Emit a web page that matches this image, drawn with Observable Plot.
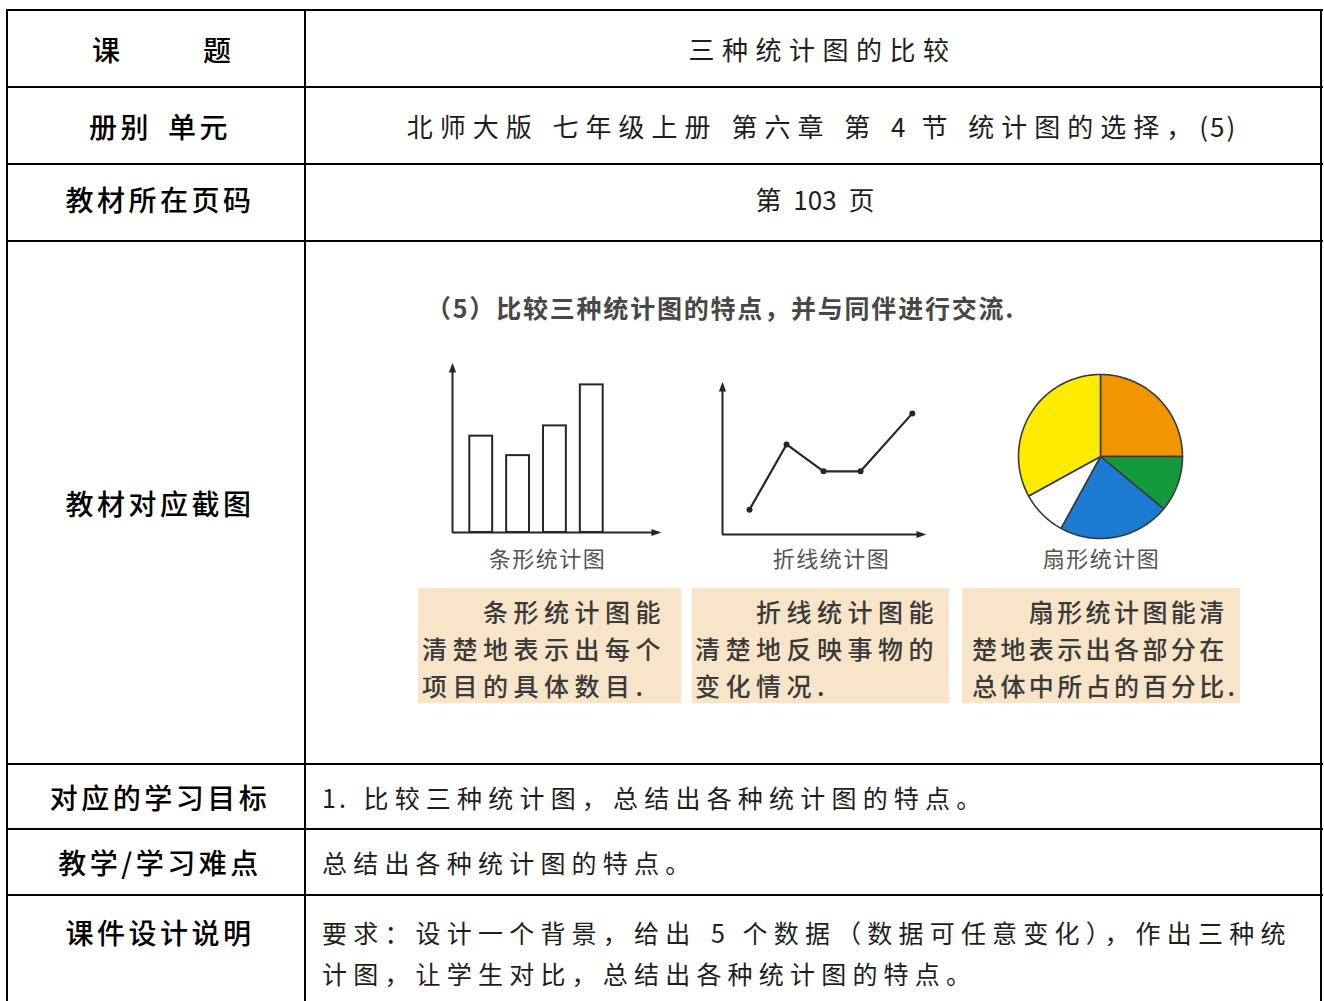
<!DOCTYPE html>
<html>
<head>
<meta charset="utf-8">
<script src="https://cdn.jsdelivr.net/npm/d3@7"></script>
<script src="https://cdn.jsdelivr.net/npm/@observablehq/plot@0.6"></script>
<style>
html,body{margin:0;padding:0;background:#fff;}
#page{position:relative;width:1324px;height:1001px;overflow:hidden;font-family:"Noto Sans CJK SC","Noto Sans",sans-serif;}
.hl{position:absolute;left:6px;width:1317px;height:2px;background:#000;}
.vl{position:absolute;top:9px;width:2px;height:1100px;background:#000;}
.t{position:absolute;white-space:nowrap;}
.lab{font-size:28px;letter-spacing:3.5px;color:#000;font-weight:500;}
.txt{color:#1e1e1e;font-weight:400;}
.head{font-size:25px;letter-spacing:1.8px;color:#474747;font-weight:700;}
.clab{font-size:22px;letter-spacing:1.5px;color:#555;font-weight:400;}
.box{position:absolute;background:#f8e4c9;}
.btxt{font-size:25px;color:#3a3a3a;font-weight:500;line-height:37px;white-space:nowrap;}
</style>
</head>
<body>
<div id="page"></div>
<script>
// ---------- data ----------
const rowLabels = ["课　　题", "册别 单元", "教材所在页码", "教材对应截图", "对应的学习目标", "教学/学习难点", "课件设计说明"];
const rowContents = [
  ["三种统计图的比较"],
  ["北师大版 七年级上册  第六章  第 4 节 统计图的选择，(5)"],
  ["第 103 页"],
  [],
  ["1. 比较三种统计图，总结出各种统计图的特点。"],
  ["总结出各种统计图的特点。"],
  ["要求：设计一个背景，给出 5 个数据（数据可任意变化），作出三种统", "计图，让学生对比，总结出各种统计图的特点。"]
];
const heading = "（5）比较三种统计图的特点，并与同伴进行交流.";
const chartNames = ["条形统计图", "折线统计图", "扇形统计图"];
const descLines = [
  ["　　条形统计图能", "清楚地表示出每个", "项目的具体数目."],
  ["　　折线统计图能", "清楚地反映事物的", "变化情况."],
  ["　　扇形统计图能清", "楚地表示出各部分在", "总体中所占的百分比."]
];
const barValues = [4.7, 3.75, 5.2, 7.2];
const lineX = [1, 2, 3, 4, 5.4];
const lineY = [1.2, 4.35, 3.05, 3.05, 5.85];
const pieValues = [25, 11, 22, 9, 33];
const pieColors = ["#f39500", "#139a3c", "#1b7ad2", "#ffffff", "#ffeb00"];

// ---------- layout ----------
const page = document.getElementById("page");
const rowLines = [10, 87, 164, 241, 764, 829, 895];
const colX = [7, 305, 1321];
// per-row text style: font size, CJK spacing, latin spacing, extra space width
const rowStyle = [
  {fs: 26, cj: 7.5, la: 2, ws: 6},
  {fs: 26, cj: 7, la: 2, ws: 6},
  {fs: 26, cj: 0, la: 0, ws: 6},
  null,
  {fs: 25, cj: 6.2, la: 3, ws: 6},
  {fs: 25, cj: 6.2, la: 3, ws: 6},
  {fs: 25, cj: 6.2, la: 3, ws: 6}
];

function el(cls, css, text) {
  const d = document.createElement("div");
  d.className = cls;
  Object.assign(d.style, css);
  if (text != null) d.textContent = text;
  page.appendChild(d);
  return d;
}
rowLines.forEach(y => el("hl", {top: (y - 1) + "px"}));
colX.forEach(x => el("vl", {left: (x - 1) + "px"}));

function text(str, x, y, cls, anchor, lh, extra) {
  const css = {top: (y - lh / 2) + "px", lineHeight: lh + "px", height: lh + "px"};
  if (anchor === "middle") {
    Object.assign(css, {left: (x - 600) + "px", width: "1200px", textAlign: "center"});
  } else {
    css.left = x + "px";
  }
  Object.assign(css, extra || {});
  return el("t " + cls, css, str);
}
const isCJK = ch => /[\u3000-\u303f\u3400-\u9fff\uff00-\uffef]/.test(ch);
function rich(div, str, st) {
  div.textContent = "";
  div.style.fontSize = st.fs + "px";
  div.style.wordSpacing = st.ws + "px";
  let run = "", cur = null;
  const flush = () => {
    if (!run) return;
    const s = document.createElement("span");
    s.textContent = run;
    s.style.letterSpacing = (cur ? st.cj : st.la) + "px";
    div.appendChild(s);
    run = "";
  };
  for (const ch of str) {
    const c = isCJK(ch);
    if (cur !== null && c !== cur) flush();
    cur = c; run += ch;
  }
  flush();
}

const leftMid = (colX[0] + colX[1]) / 2 + 1;
const rightMid = (colX[1] + colX[2]) / 2 + 2;
rowLabels.forEach((lab, i) => {
  const top = rowLines[i];
  const bottom = rowLines[i + 1] || 1060;
  const yc = i === 6 ? top + 37 : (top + bottom) / 2 - (i === 2 ? 4 : 0);
  const extra = {paddingLeft: "3px"};
  if (i === 0) { extra.letterSpacing = "9px"; extra.paddingLeft = "9px"; }
  if (i === 1) { extra.wordSpacing = "6px"; }
  text(lab, leftMid, yc, "lab", "middle", 40, extra);
  const lines = rowContents[i];
  lines.forEach((ln, j) => {
    const st = rowStyle[i];
    let d;
    if (i < 3) d = text("", rightMid, yc, "txt", "middle", 40, {paddingLeft: st.cj + "px"});
    else d = text("", 322, yc + j * 41, "txt", "start", 40);
    rich(d, ln, st);
  });
});

// ---------- textbook picture ----------
text(heading, 426, 307, "head", "start", 36);
const labelCx = [546, 830, 1100];
chartNames.forEach((n, i) => text(n, labelCx[i], 557, "clab", "middle", 30, {paddingLeft: "1.5px"}));

const boxes = [[418, 681, 4, 5.5], [692, 949, 3, 5.5], [962, 1240, 10, 3.4]];
boxes.forEach((b, i) => {
  const d = el("box btxt", {left: b[0] + "px", top: "588px", width: (b[1] - b[0]) + "px", height: "115px",
    paddingTop: "5px", boxSizing: "border-box", paddingLeft: b[2] + "px", letterSpacing: b[3] + "px"});
  descLines[i].forEach(s => { const l = document.createElement("div"); l.textContent = s; d.appendChild(l); });
});

// arrowhead symbols
const upTri = {draw(ctx, size) { const r = Math.sqrt(size / Math.PI);
  ctx.moveTo(0, -1.3 * r); ctx.lineTo(0.8 * r, 0.9 * r); ctx.lineTo(-0.8 * r, 0.9 * r); ctx.closePath(); }};
const rightTri = {draw(ctx, size) { const r = Math.sqrt(size / Math.PI);
  ctx.moveTo(1.3 * r, 0); ctx.lineTo(-0.9 * r, -0.8 * r); ctx.lineTo(-0.9 * r, 0.8 * r); ctx.closePath(); }};
const ink = "#262626";

function axesMarks(xd, yd) {
  return [
    Plot.ruleX([xd[0]], {y1: yd[0], y2: yd[1], stroke: ink, strokeWidth: 2}),
    Plot.ruleY([yd[0]], {x1: xd[0], x2: xd[1], stroke: ink, strokeWidth: 2}),
    Plot.dot([{x: xd[0], y: yd[1]}], {x: "x", y: "y", symbol: upTri, r: 4.5, fill: ink, stroke: "none"}),
    Plot.dot([{x: xd[1], y: yd[0]}], {x: "x", y: "y", symbol: rightTri, r: 4.5, fill: ink, stroke: "none"})
  ];
}
function place(svg, left, top) {
  svg.style.position = "absolute";
  svg.style.left = left + "px";
  svg.style.top = top + "px";
  svg.style.background = "transparent";
  svg.style.overflow = "visible";
  page.appendChild(svg);
}

// bar chart
const barXD = [0.22, 5.73], barYD = [0, 8.0];
const barData = barValues.map((v, i) => ({i: i + 1, v}));
const bar = Plot.plot({
  width: 240, height: 190, marginLeft: 20, marginRight: 17, marginTop: 13, marginBottom: 13,
  x: {domain: barXD, axis: null}, y: {domain: barYD, axis: null},
  marks: [
    Plot.rectY(barData, {x1: d => d.i - 0.31, x2: d => d.i + 0.31, y: "v", fill: "#fff", stroke: ink, strokeWidth: 2}),
    ...axesMarks(barXD, barYD)
  ]
});
place(bar, 432, 355);

// line chart
const lineXD = [0.27, 5.62], lineYD = [0, 7.1];
const lineData = lineX.map((x, i) => ({x, y: lineY[i]}));
const line = Plot.plot({
  width: 240, height: 175, marginLeft: 22, marginRight: 20, marginTop: 15, marginBottom: 13,
  x: {domain: lineXD, axis: null}, y: {domain: lineYD, axis: null},
  marks: [
    ...axesMarks(lineXD, lineYD),
    Plot.line(lineData, {x: "x", y: "y", stroke: ink, strokeWidth: 2.2}),
    Plot.dot(lineData, {x: "x", y: "y", r: 3, fill: ink, stroke: "none"})
  ]
});
place(line, 700, 372);

// pie chart
const arcs = d3.pie().sort(null)(pieValues);
const piePts = arcs.flatMap((a, k) => {
  const n = Math.max(2, Math.ceil((a.endAngle - a.startAngle) / 0.02));
  const pts = [{k, x: 0, y: 0}];
  for (let j = 0; j <= n; j++) {
    const t = a.startAngle + (a.endAngle - a.startAngle) * j / n;
    pts.push({k, x: Math.sin(t), y: Math.cos(t)});
  }
  pts.push({k, x: 0, y: 0});
  return pts;
});
const pie = Plot.plot({
  width: 200, height: 200, margin: 18,
  x: {domain: [-1, 1], axis: null}, y: {domain: [-1, 1], axis: null},
  color: {type: "identity"},
  marks: [
    Plot.line(piePts, {x: "x", y: "y", z: "k", fill: d => pieColors[d.k], stroke: "#3a3a3a", strokeWidth: 1.6, strokeLinejoin: "round"})
  ]
});
place(pie, 1000, 356);
</script>
</body>
</html>
